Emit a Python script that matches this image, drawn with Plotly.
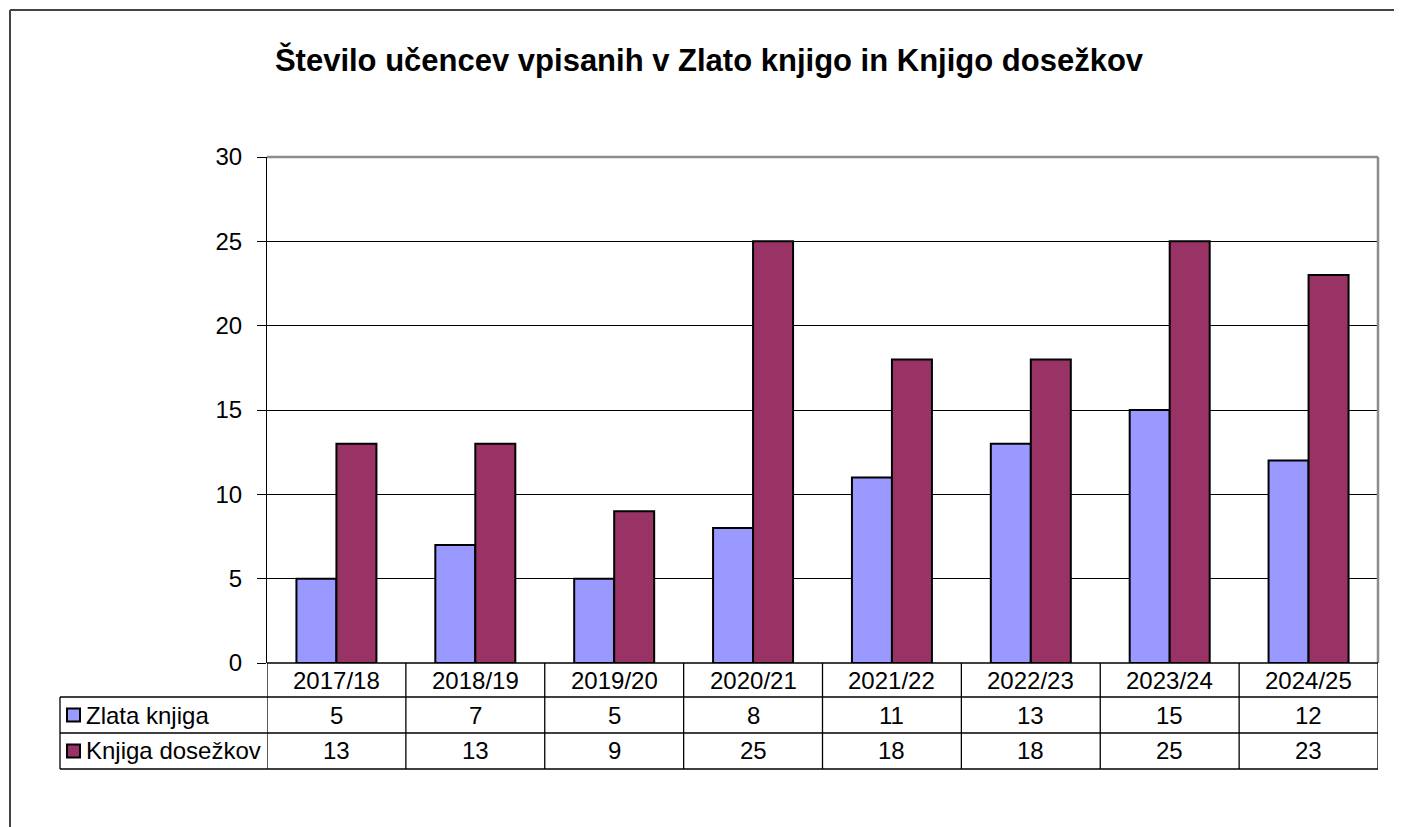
import plotly.graph_objects as go

categories = ["2017/18", "2018/19", "2019/20", "2020/21", "2021/22", "2022/23", "2023/24", "2024/25"]
series_names = ["Zlata knjiga", "Knjiga dosežkov"]
zlata_knjiga = [5, 7, 5, 8, 11, 13, 15, 12]
knjiga_dosezkov = [13, 13, 9, 25, 18, 18, 25, 23]
series_values = [zlata_knjiga, knjiga_dosezkov]
series_colors = ["#9999FF", "#993366"]
title_text = "Število učencev vpisanih v Zlato knjigo in Knjigo dosežkov"

OFF = 8  # page body margin
W, H = 1402 - OFF, 827 - OFF
PL, PR, PT, PB = 267 - OFF, 1378 - OFF, 157 - OFF, 663 - OFF  # plot area in figure pixels
FONT = "Arial, Liberation Sans, sans-serif"
FS = 24


def px(x):
    """page pixel x -> paper"""
    return (x - OFF - PL) / (PR - PL)


def py(y):
    """page pixel y -> paper"""
    return (PB - (y - OFF)) / (PB - PT)


fig = go.Figure()
for name, vals, col in zip(series_names, series_values, series_colors):
    fig.add_trace(go.Bar(
        x=categories, y=vals, name=name,
        marker=dict(color=col, line=dict(color="black", width=2)),
        showlegend=False,
    ))

shapes = []
annotations = []

# outer chart border (top and left)
shapes.append(dict(type="line", xref="paper", yref="paper", x0=px(10), x1=px(1420),
                   y0=py(10), y1=py(10), line=dict(color="#444444", width=2)))
shapes.append(dict(type="line", xref="paper", yref="paper", x0=px(10), x1=px(10),
                   y0=py(10), y1=py(840), line=dict(color="#444444", width=2)))

# plot area top/right gray border
shapes.append(dict(type="line", xref="paper", yref="paper", x0=0, x1=1, y0=1, y1=1,
                   line=dict(color="#8c8c8c", width=2.5)))
shapes.append(dict(type="line", xref="paper", yref="paper", x0=1, x1=1, y0=0, y1=1,
                   line=dict(color="#8c8c8c", width=2.5)))

# data table lines
row_lines = [663, 697, 733, 769]
tbl_left = 60
for i, yy in enumerate(row_lines):
    x0 = 0 if i == 0 else px(tbl_left)
    shapes.append(dict(type="line", xref="paper", yref="paper", x0=x0, x1=1,
                       y0=py(yy), y1=py(yy), line=dict(color="black", width=1.3)))
shapes.append(dict(type="line", xref="paper", yref="paper", x0=px(tbl_left), x1=px(tbl_left),
                   y0=py(697), y1=py(769), line=dict(color="black", width=1.3)))
for k in range(len(categories) + 1):
    shapes.append(dict(type="line", xref="x", yref="paper", x0=k - 0.5, x1=k - 0.5,
                       y0=py(663), y1=py(769), line=dict(color="black", width=1.3)))

# legend keys and table text
row_centers = [715, 751]
for name, vals, col, yc in zip(series_names, series_values, series_colors, row_centers):
    shapes.append(dict(type="rect", xref="paper", yref="paper",
                       x0=px(67), x1=px(80), y0=py(yc - 6.5), y1=py(yc + 6.5),
                       fillcolor=col, line=dict(color="black", width=2)))
    annotations.append(dict(xref="paper", yref="paper", x=px(84), y=py(yc),
                            text=name, showarrow=False, xanchor="left", yanchor="middle",
                            font=dict(size=FS, color="black", family=FONT)))
    for c, v in zip(categories, vals):
        annotations.append(dict(xref="x", yref="paper", x=c, y=py(yc), text=str(v),
                                showarrow=False, xanchor="center", yanchor="middle",
                                font=dict(size=FS, color="black", family=FONT)))
for c in categories:
    annotations.append(dict(xref="x", yref="paper", x=c, y=py(680), text=c,
                            showarrow=False, xanchor="center", yanchor="middle",
                            font=dict(size=FS, color="black", family=FONT)))

fig.update_layout(
    width=W, height=H,
    margin=dict(l=PL, r=W - PR, t=PT, b=H - PB),
    paper_bgcolor="white", plot_bgcolor="white",
    barmode="group", bargap=0.424, bargroupgap=0,
    title=dict(text="<b>" + title_text + "</b>", x=(709 - OFF) / W, xref="container",
               xanchor="center", y=1 - (60 - OFF) / H, yref="container", yanchor="middle",
               font=dict(size=31, color="black", family=FONT)),
    font=dict(family=FONT, color="black"),
    shapes=shapes, annotations=annotations,
)
fig.update_yaxes(range=[0, 30], dtick=5, tick0=0, showgrid=True, gridcolor="black", gridwidth=1,
                 showline=True, linecolor="black", linewidth=1, ticks="outside", ticklen=9,
                 tickcolor="black", tickfont=dict(size=FS, color="black", family=FONT),
                 ticklabelstandoff=10, zeroline=False, fixedrange=True)
fig.update_xaxes(showticklabels=False, showgrid=False, showline=False, zeroline=False,
                 ticks="", range=[-0.5, len(categories) - 0.5])

fig.write_html("out.html")
